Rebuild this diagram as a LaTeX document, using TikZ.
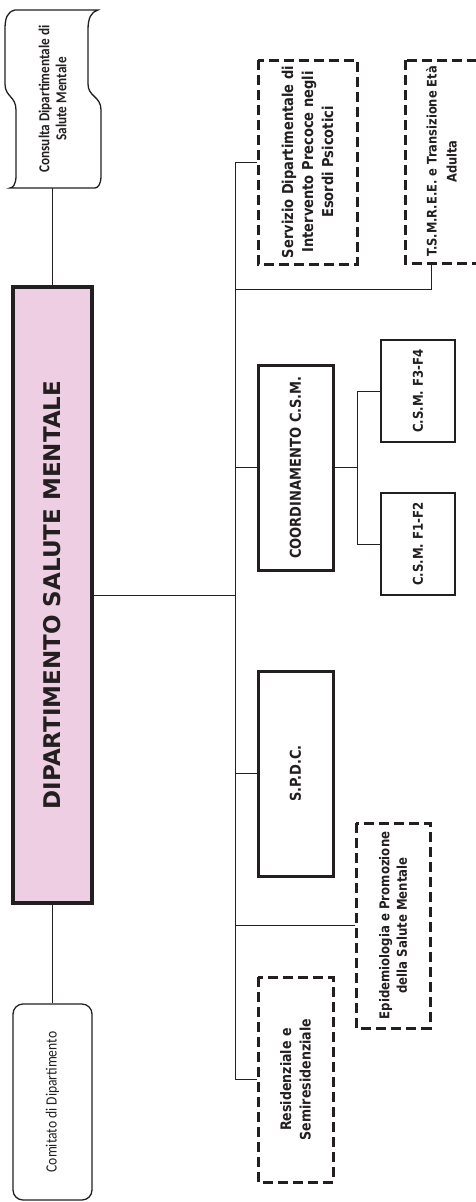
\documentclass[tikz,border=0pt]{standalone}
\usepackage{fontspec}
\newfontfamily\titlefont{DejaVu Sans}
\newfontfamily\labelfont[FakeStretch=0.87]{DejaVu Sans}
\newfontfamily\calfont[FakeStretch=0.87]{Carlito}
\definecolor{ink}{RGB}{35,31,32}
\definecolor{dsmpink}{RGB}{237,206,226}

\begin{document}
\begin{tikzpicture}[x=1pt,y=1pt]
\tikzset{every node/.style={rotate=90, align=center, inner sep=0pt, text=ink},
         conn/.style={draw=ink, line width=1pt},
         solidbox/.style={draw=ink, line width=3pt, minimum width=205pt, minimum height=75pt},
         dashbox/.style={draw=ink, line width=3pt, dash pattern=on 10pt off 5pt, minimum width=205pt, minimum height=75pt},
         thinbox/.style={draw=ink, line width=1.7pt, minimum width=102pt, minimum height=74pt},
         boxfont/.style={font=\labelfont\bfseries\fontsize{#1}{20}\selectfont}}
        \useasboundingbox (0,0) rectangle (475,-1202);

        \node[minimum width=178pt, minimum height=80pt, font=\calfont\bfseries\fontsize{15.2}{17}\selectfont] (consulta) at (52.5,-99) {Consulta Dipartimentale di\\Salute Mentale};
        \draw[ink, line width=1.3pt] (15,-10) -- (98,-10)
            .. controls (91,-12) and (88,-18) .. (88,-30) -- (88,-84)
            .. controls (88,-97) and (101,-96) .. (101,-110) -- (101,-176)
            .. controls (101,-184) and (98,-188) .. (95,-188) -- (10,-188)
            .. controls (13,-188) and (16,-184) .. (16,-176) -- (16,-110)
            .. controls (16,-96) and (5,-97) .. (5,-84) -- (5,-30)
            .. controls (5,-18) and (7,-12) .. (15,-10) -- cycle;

        \node[draw=ink, fill=dsmpink, line width=4.5pt, minimum width=616pt, minimum height=79pt, font=\titlefont\bfseries\fontsize{23}{27}\selectfont] (dsm) at (52.5,-595) {DIPARTIMENTO SALUTE MENTALE};
        \node[draw=ink, line width=1.3pt, rounded corners=10pt, minimum width=196pt, minimum height=79pt, font=\calfont\fontsize{15.6}{18}\selectfont] (comitato) at (52.5,-1102) {Comitato di Dipartimento};

        \node[dashbox, minimum width=204pt, minimum height=99pt, boxfont=15] (servizio) at (307.5,-162) {Servizio Dipartimentale di\\Intervento Precoce negli\\Esordi Psicotici};
        \node[dashbox, minimum width=203pt, minimum height=73pt, boxfont=13.2] (tsmree) at (441.5,-161.5) {T.S.M.R.E.E. e Transizione Età\\Adulta};
        \node[solidbox, boxfont=15] (coord) at (295.5,-467.5) {COORDINAMENTO C.S.M.};
        \node[thinbox, boxfont=13.5] (csmfa) at (418,-391) {C.S.M. F3-F4};
        \node[thinbox, boxfont=13.5] (csmfb) at (418,-544) {C.S.M. F1-F2};
        \node[solidbox, boxfont=15] (spdc) at (295.5,-773.5) {S.P.D.C.};
        \node[dashbox, minimum height=74pt, font=\labelfont\bfseries\fontsize{13.5}{17.5}\selectfont] (epid) at (393,-925.5) {Epidemiologia e Promozione\\della Salute Mentale};
        \node[dashbox, font=\labelfont\bfseries\fontsize{14.5}{19.5}\selectfont] (resid) at (295.5,-1079.5) {Residenziale e\\Semiresidenziale};

        \coordinate (trunktop) at (235,-162);
        \coordinate (trunkbot) at (235,-1079.5);
        \coordinate (tsmbend) at (235,-289);
        \coordinate (tsmfoot) at (431,-263);
        \coordinate (csmbus) at (357,-467.5);

        \draw[conn] (consulta) -- (dsm);
        \draw[conn] (dsm) -- (comitato);
        \draw[conn] (trunktop) -- (trunkbot);
        \draw[conn] (dsm) -- (dsm -| trunktop);
        \draw[conn] (servizio) -- (trunktop);
        \draw[conn] (tsmfoot) |- (tsmbend);
        \draw[conn] (coord) -- (coord -| trunktop);
        \draw[conn] (spdc) -- (spdc -| trunktop);
        \draw[conn] (epid) -- (epid -| trunktop);
        \draw[conn] (resid) -- (trunkbot);
        \draw[conn] (coord) -- (csmbus);
        \draw[conn] (csmfa) -| (csmbus);
        \draw[conn] (csmfb) -| (csmbus);
\end{tikzpicture}
\end{document}
